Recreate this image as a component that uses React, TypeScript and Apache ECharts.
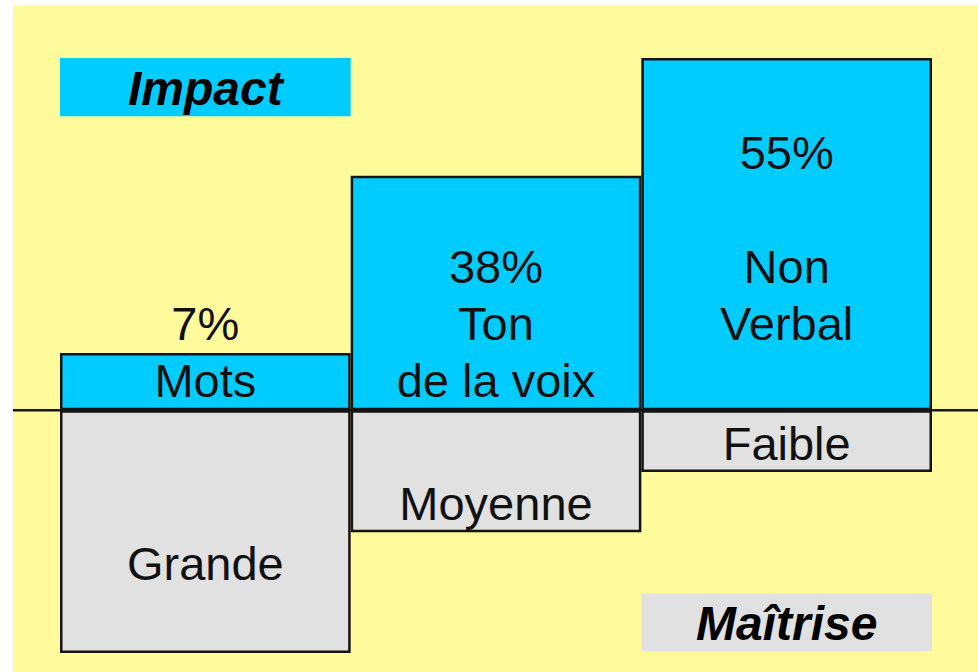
import React, { useEffect, useRef } from 'react';
import * as echarts from 'echarts';

// Categories (communication channels)
const categories = ['Mots', 'Ton de la voix', 'Non Verbal'];
const categoryLines: string[][] = [['Mots'], ['Ton', 'de la voix'], ['Non', 'Verbal']];
// Impact percentages (text) and bar heights (grid units)
const impactPct = [7, 38, 55];
const impactHeight = [0.96, 3.94, 5.92];
// Mastery level (below the baseline)
const masteryLabels = ['Grande', 'Moyenne', 'Faible'];
const masteryDepth = [-4.08, -2.05, -1.04];
// Annotation boxes
const boxCategory = [0, 2];
const boxFrom = [4.94, -3.08];
const boxTo = [5.92, -4.05];
const boxText = ['Impact', 'Maîtrise'];

const FONT = "'Liberation Sans', Arial, Helvetica, sans-serif";
const CYAN = '#00CCFF';
const GREY = '#E1E1E1';
const BORDER = '#141414';

// label layout (blank rows) – layout only
const impactBlankBefore = [0, 0, 1];
const impactBlankAfter = [0, 0, 1];
const masteryBlankBefore = [2, 1, 0];

export default function App() {
  const ref = useRef<HTMLDivElement>(null);
  useEffect(() => {
    document.body.style.margin = '0';
    const chart = echarts.init(ref.current!, null, { renderer: 'svg' });
    const impactData = impactHeight.map((v, i) => ({
      value: v,
      label: {
        formatter: [
          `${impactPct[i]}%`,
          ...Array(impactBlankBefore[i]).fill(''),
          ...categoryLines[i],
          ...Array(impactBlankAfter[i]).fill(''),
        ].join('\n'),
      },
    }));
    const masteryData = masteryDepth.map((v, i) => ({
      value: v,
      label: {
        formatter: [...Array(masteryBlankBefore[i]).fill(''), masteryLabels[i]].join('\n'),
      },
    }));
    const boxData = boxCategory.map((c, i) => [c, boxFrom[i], boxTo[i]]);
    chart.setOption({
      animation: false,
      grid: { left: 60, right: 46, top: 58, bottom: 19, containLabel: false },
      xAxis: { type: 'category', data: categories, show: false },
      yAxis: { type: 'value', min: -4.08, max: 5.92, show: false, splitLine: { show: false } },
      series: [
        {
          type: 'bar',
          name: 'Impact',
          data: impactData,
          barGap: '-100%',
          barCategoryGap: 0,
          itemStyle: { color: CYAN, borderColor: BORDER, borderWidth: 2.5 },
          label: {
            show: true,
            position: 'insideBottom',
            distance: 1,
            fontFamily: FONT,
            fontSize: 47,
            lineHeight: 57,
            color: '#111',
            align: 'center',
          },
        },
        {
          type: 'bar',
          name: 'Maîtrise',
          data: masteryData,
          barGap: '-100%',
          barCategoryGap: 0,
          itemStyle: { color: GREY, borderColor: BORDER, borderWidth: 2.5 },
          label: {
            show: true,
            position: 'insideTop',
            distance: 3,
            fontFamily: FONT,
            fontSize: 47,
            lineHeight: 60,
            color: '#111',
            align: 'center',
          },
        },
        {
          type: 'custom',
          data: boxData,
          encode: { x: 0, y: [1, 2] },
          z: 5,
          renderItem: (params: any, api: any) => {
            const c = api.value(0);
            const p1 = api.coord([c, api.value(1)]);
            const p2 = api.coord([c, api.value(2)]);
            const bw = api.size([1, 0])[0];
            const y = Math.min(p1[1], p2[1]);
            const h = Math.abs(p1[1] - p2[1]);
            const idx = params.dataIndex;
            return {
              type: 'group',
              children: [
                {
                  type: 'rect',
                  shape: { x: p1[0] - bw / 2, y, width: bw, height: h },
                  style: { fill: idx === 0 ? CYAN : GREY },
                },
                {
                  type: 'text',
                  style: {
                    text: boxText[idx],
                    x: p1[0],
                    y: y + h / 2 + 1,
                    align: 'center',
                    verticalAlign: 'middle',
                    font: `italic bold 48px ${FONT}`,
                    fill: '#000',
                  },
                },
              ],
            };
          },
        },
      ],
    });
    const y0 = chart.convertToPixel({ yAxisIndex: 0 }, 0) as number;
    chart.setOption({
      graphic: [
        {
          type: 'line',
          z: 100,
          shape: { x1: 13, y1: y0, x2: 978, y2: y0 },
          style: { stroke: BORDER, lineWidth: 2.5 },
        },
      ],
    });
    return () => chart.dispose();
  }, []);
  return (
    <div style={{ position: 'relative', width: 978, height: 672, background: '#ffffff', overflow: 'hidden' }}>
      <div style={{ position: 'absolute', left: 13, top: 5, right: 0, bottom: 0, background: '#FFFA9B' }} />
      <div ref={ref} style={{ position: 'absolute', left: 0, top: 0, width: 978, height: 672 }} />
    </div>
  );
}
